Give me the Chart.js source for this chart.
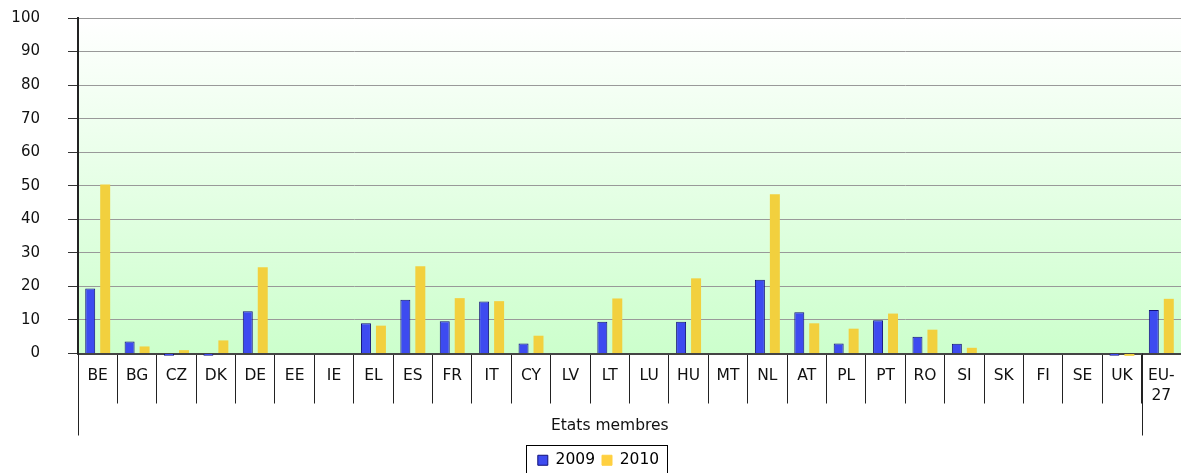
<!DOCTYPE html>
<html>
<head>
<meta charset="utf-8">
<script src="https://cdn.jsdelivr.net/npm/chart.js@4"></script>
<style>
  html, body { margin: 0; padding: 0; background: #fff; }
  #wrap { width: 1181px; height: 473px; }
</style>
</head>
<body>
<div id="wrap"><canvas id="chart"></canvas></div>
<script>
const countries = ["BE", "BG", "CZ", "DK", "DE", "EE", "IE", "EL", "ES", "FR", "IT", "CY", "LV", "LT", "LU",
  "HU", "MT", "NL", "AT", "PL", "PT", "RO", "SI", "SK", "FI", "SE", "UK", ["EU-", "27"]];
const values2009 = [19.4, 3.6, -0.7, -0.7, 12.6, null, null, 9.0, 16.0, 9.6, 15.5, 3.0, null, 9.5, null,
  9.5, null, 22.0, 12.3, 3.0, 9.9, 5.0, 2.9, null, null, null, -0.7, 13.0];
const values2010 = [50.4, 2.1, 1.0, 3.9, 25.7, null, null, 8.3, 26.0, 16.5, 15.6, 5.3, null, 16.4, null,
  22.4, null, 47.5, 9.0, 7.4, 11.9, 7.1, 1.7, null, null, null, -0.7, 16.3];
const groupLabel = "Etats membres";

const font = "'DejaVu Sans', Verdana, sans-serif";

// green gradient behind the plot, the group line and the legend frame
const decorations = {
  id: "decorations",
  afterLayout(chart) {
    chart.legend.left += 8;
    chart.legend.right += 8;
  },
  beforeDraw(chart) {
    const { ctx, chartArea: a } = chart;
    const g = ctx.createLinearGradient(0, a.top, 0, a.bottom);
    g.addColorStop(0, "#ffffff");
    g.addColorStop(1, "#ccffcc");
    ctx.save();
    ctx.fillStyle = g;
    ctx.fillRect(a.left, a.top, a.right - a.left, a.bottom - a.top);
    ctx.restore();
  },
  afterDraw(chart) {
    const { ctx, chartArea: a } = chart;
    const x = chart.scales.x;
    const split = (x.getPixelForValue(26) + x.getPixelForValue(27)) / 2;
    ctx.save();
    ctx.strokeStyle = "#222";
    ctx.lineWidth = 1;
    ctx.beginPath();
    ctx.moveTo(a.left + 0.5, a.bottom);
    ctx.lineTo(a.left + 0.5, a.bottom + 82);
    ctx.moveTo(Math.round(split) + 0.5, a.bottom);
    ctx.lineTo(Math.round(split) + 0.5, a.bottom + 82);
    ctx.stroke();

    ctx.fillStyle = "#111";
    ctx.font = "15.5px " + font;
    ctx.textAlign = "center";
    ctx.textBaseline = "middle";
    ctx.fillText(groupLabel, (a.left + split) / 2, a.bottom + 72);

    const boxes = chart.legend.legendHitBoxes;
    const l = Math.min(...boxes.map(b => b.left)) - 12;
    const r = Math.max(...boxes.map(b => b.left + b.width)) + 8;
    const t = boxes[0].top - 8;
    ctx.strokeStyle = "#000";
    ctx.strokeRect(Math.round(l) + 0.5, Math.round(t) + 0.5, Math.round(r - l), 40);
    ctx.restore();
  }
};

new Chart(document.getElementById("chart"), {
  type: "bar",
  data: {
    labels: countries,
    datasets: [
      {
        label: "2009",
        data: values2009,
        backgroundColor: "#3d4bf0",
        borderColor: "#10107a",
        borderWidth: 1,
        clip: false
      },
      {
        label: "2010",
        data: values2010,
        backgroundColor: "#f2d03e",
        borderWidth: 0,
        clip: false
      }
    ]
  },
  options: {
    responsive: true,
    maintainAspectRatio: false,
    animation: false,
    layout: { padding: { top: 18, right: 0, left: 0, bottom: -5 } },
    datasets: { bar: { categoryPercentage: 0.76, barPercentage: 0.667 } },
    plugins: {
      tooltip: { enabled: false },
      legend: {
        position: "bottom",
        labels: {
          color: "#111",
          font: { family: font, size: 15.5 },
          boxWidth: 10,
          boxHeight: 10,
          padding: 7,
          generateLabels(chart) {
            return chart.data.datasets.map((ds, i) => ({
              text: ds.label,
              fillStyle: i === 0 ? "#3d4bf0" : "#ffd040",
              strokeStyle: i === 0 ? "#10107a" : "#ffd040",
              lineWidth: 1,
              datasetIndex: i
            }));
          }
        }
      }
    },
    scales: {
      x: {
        offset: true,
        grid: {
          offset: true,
          drawOnChartArea: false,
          tickLength: 50,
          tickColor: "#222",
          lineWidth: 1
        },
        border: { display: true, color: "#444", width: 2 },
        ticks: {
          color: "#111",
          padding: -38,
          maxRotation: 0,
          autoSkip: false,
          font: { family: font, size: 15.5, lineHeight: 1.3 }
        },
        afterFit(scale) { scale.height = 92; }
      },
      y: {
        min: 0,
        max: 100,
        ticks: {
          stepSize: 10,
          color: "#111",
          padding: 28,
          font: { family: font, size: 15 }
        },
        grid: {
          color: "#999",
          tickColor: "#333",
          tickLength: 10,
          lineWidth: 1
        },
        border: { display: true, color: "#222", width: 2 },
        afterFit(scale) {
          scale.width = 78;
          scale.paddingTop = 0;
          scale.paddingBottom = 0;
        }
      }
    }
  },
  plugins: [decorations]
});
</script>
</body>
</html>
